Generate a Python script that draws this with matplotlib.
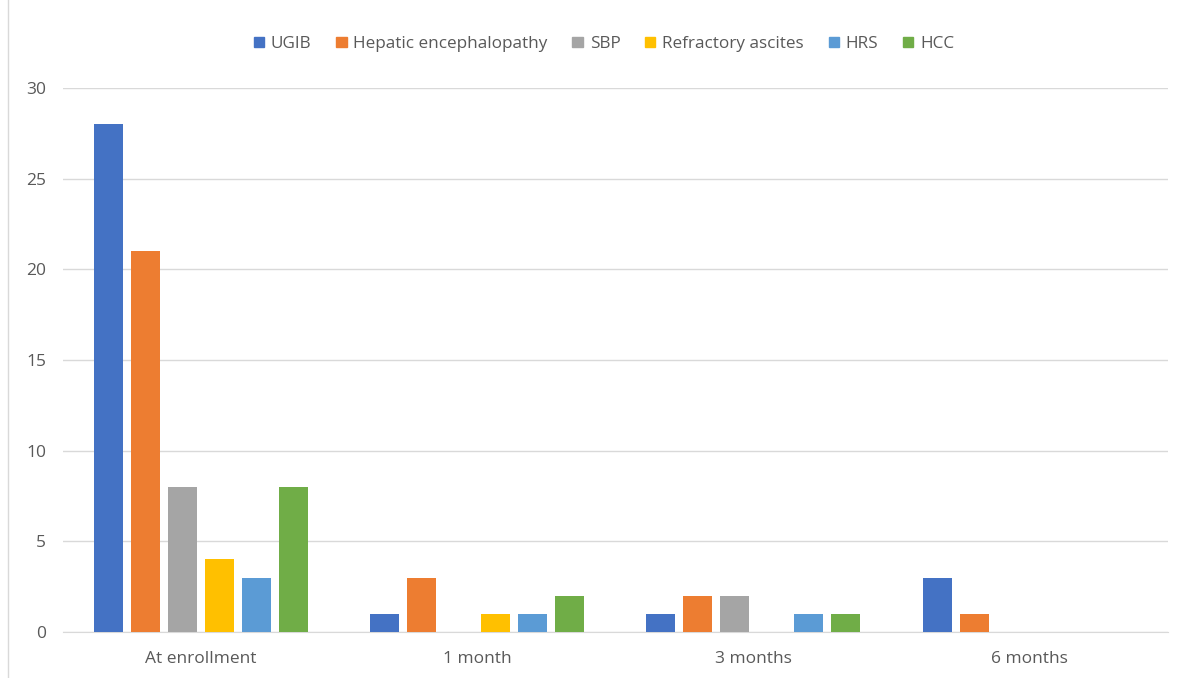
import numpy as np
import matplotlib.pyplot as plt
from matplotlib.lines import Line2D
from matplotlib.patches import Patch

plt.rcParams["font.family"] = ["Open Sans", "DejaVu Sans"]

groups = ["At enrollment", "1 month", "3 months", "6 months"]
series = ["UGIB", "Hepatic encephalopathy", "SBP", "Refractory ascites", "HRS", "HCC"]
ugib = [28, 1, 1, 3]
hepatic = [21, 3, 2, 1]
sbp = [8, 0, 2, 0]
ascites = [4, 1, 0, 0]
hrs = [3, 1, 1, 0]
hcc = [8, 2, 1, 0]

values = [ugib, hepatic, sbp, ascites, hrs, hcc]
colors = ["#4472C4", "#ED7D31", "#A5A5A5", "#FFC000", "#5B9BD5", "#70AD47"]

fig = plt.figure(figsize=(11.89, 6.78), dpi=100)
ax = fig.add_axes([0.053, 0.068, 0.929, 0.802])

x = np.arange(len(groups))
step = 0.134
width = 0.105
for i, (vals, c) in enumerate(zip(values, colors)):
    ax.bar(x + (i - 2.5) * step, vals, width, color=c, zorder=3)

ax.set_xlim(-0.5, 3.5)
ax.set_ylim(0, 30)
ax.set_yticks(range(0, 31, 5))
ax.set_xticks(x)
ax.set_xticklabels(groups)
ax.yaxis.grid(True, color="#D9D9D9", linewidth=1, zorder=0)
for s in ["top", "right", "left"]:
    ax.spines[s].set_visible(False)
ax.spines["bottom"].set_color("#D9D9D9")
ax.tick_params(axis="both", length=0, colors="#595959", labelsize=12.5)
ax.tick_params(axis="y", pad=12)
ax.tick_params(axis="x", pad=14)

handles = [Patch(color=c, label=s) for c, s in zip(colors, series)]
leg = fig.legend(handles=handles, loc="center", bbox_to_anchor=(0.508, 0.935), ncol=6,
                 frameon=False, fontsize=12.3, handlelength=0.6, handleheight=0.6,
                 handletextpad=0.4, columnspacing=1.45)
for t in leg.get_texts():
    t.set_color("#595959")

fig.add_artist(Line2D([8 / 1189, 8 / 1189], [0, 1], color="#D9D9D9", linewidth=1))

fig.savefig("out.png", dpi=100)
